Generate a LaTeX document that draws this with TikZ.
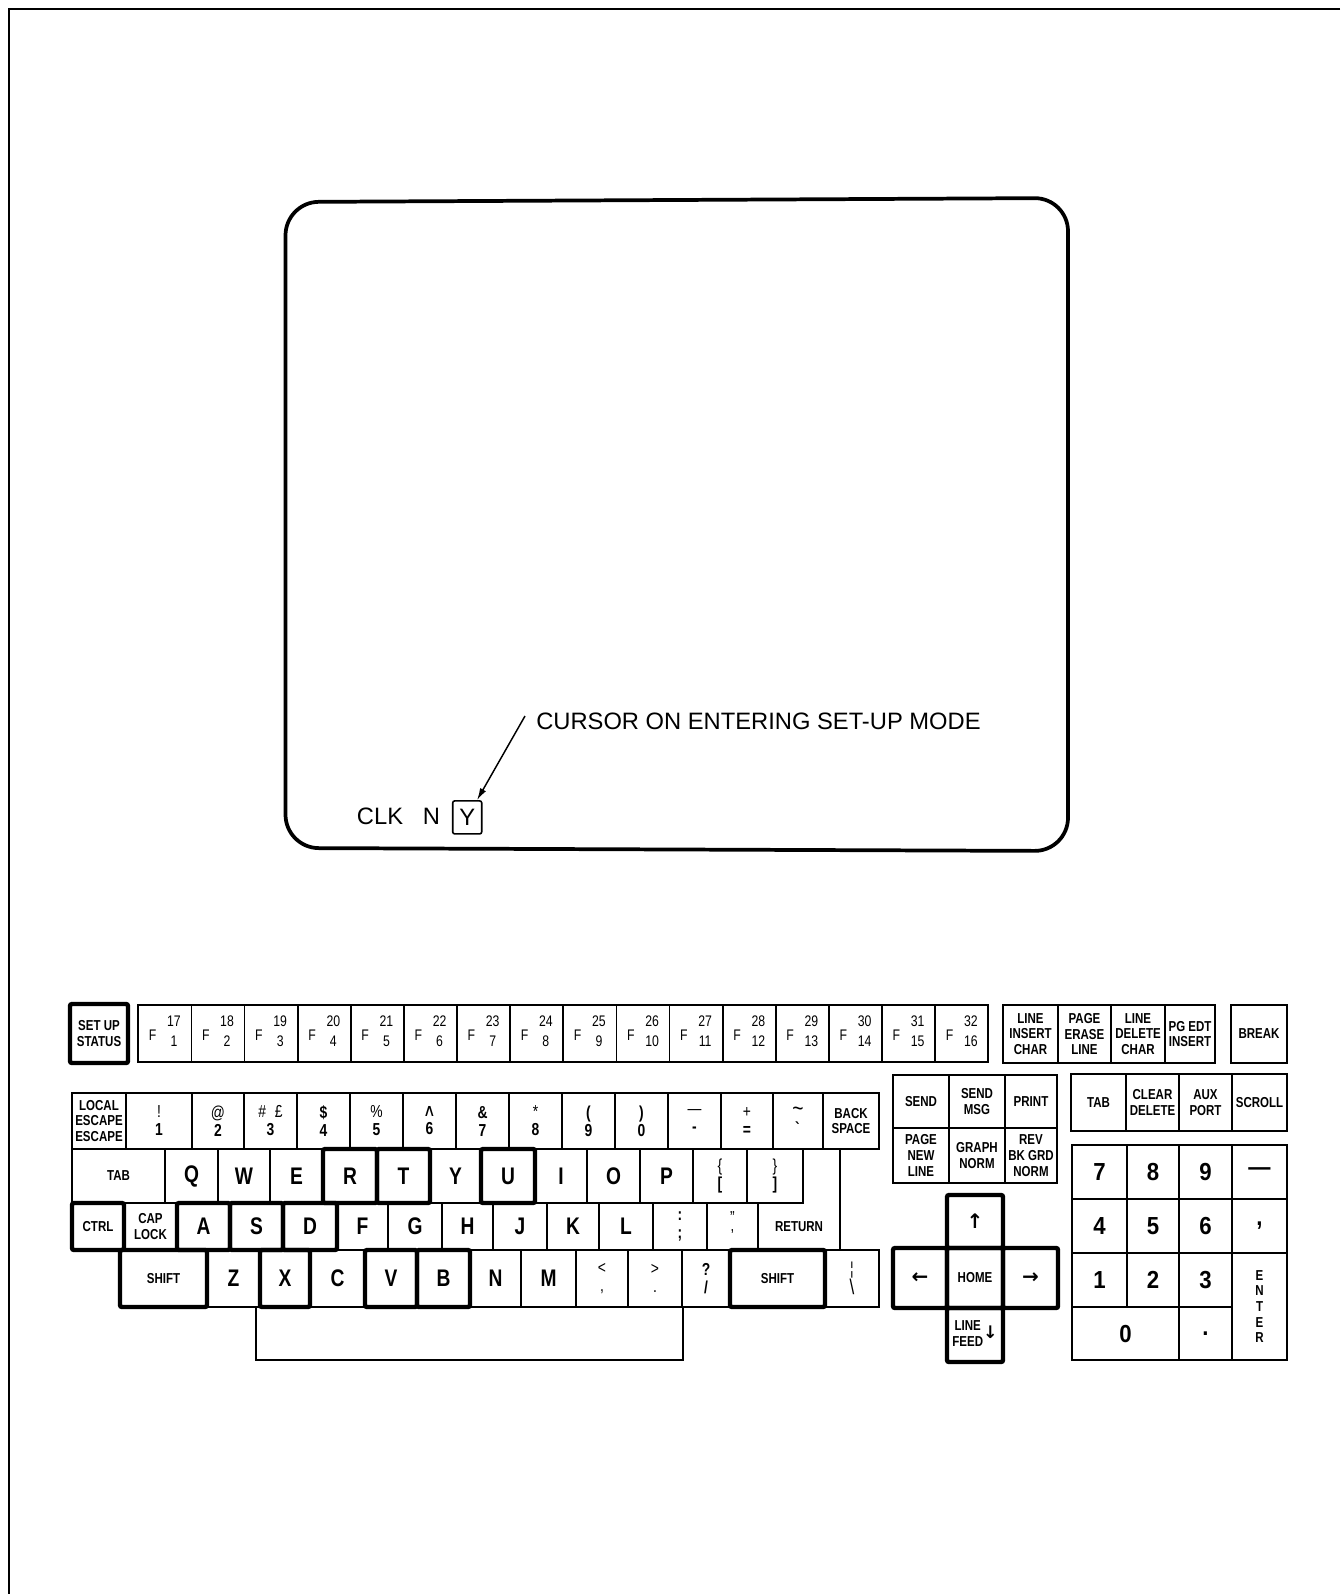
\documentclass[tikz,border=0pt]{standalone}
\usepackage{fontspec}
\setmainfont{Liberation Sans}
\newfontfamily\keyfont[FakeStretch=0.8]{Liberation Sans}
\newfontfamily\padfont[FakeStretch=0.9]{Liberation Sans}
\newfontfamily\symfont{DejaVu Sans}
\usetikzlibrary{arrows.meta}

\newcommand\kbkey[7][]{%
  \node[keybox,#1,minimum width={(#5-#3)*0.75pt},minimum height={(#6-#4)*0.75pt}]
    (#2) at ({(#3+#5)/2},{(#4+#6)/2}) {#7};}

\begin{document}
\begin{tikzpicture}[x=0.75pt, y=-0.75pt,
  keybox/.style={draw, line width=1.3pt, inner sep=0pt, outer sep=0pt, align=center, font=\keyfont\bfseries\fontsize{10.8}{11.8}\selectfont},
  hotkey/.style={line width=3.3pt, rounded corners=1.5pt},
  bigkey/.style={font=\keyfont\bfseries\fontsize{18}{18}\selectfont},
  padkey/.style={font=\padfont\bfseries\fontsize{18.5}{19}\selectfont},
  dualkey/.style={font=\keyfont\fontsize{13}{13.5}\selectfont},
  fnkey/.style={font=\keyfont\fontsize{11.5}{12}\selectfont},
  arrowkey/.style={font=\symfont\bfseries\fontsize{15}{16}\selectfont},
  keyline/.style={line width=1.3pt},
  monitor/.style={line width=2.8pt, rounded corners=25pt},
  crt/.style={font=\fontsize{17.8}{20}\selectfont, inner sep=0pt},
  pageedge/.style={line width=1.1pt},
  arr/.style={-{Latex[length=9pt,width=5pt]}, line width=1.1pt}
]
\useasboundingbox (0,0) rectangle (1340,1594);
\draw[pageedge] (1340,9) -- (9,9) -- (9,1594);

\draw[monitor] (676,200) -- (1068,198) -- (1068,851) -- (285.5,848) -- (285.5,202) -- cycle;
\node[crt, anchor=base west] (cursorlbl) at (536,729) {CURSOR ON ENTERING SET-UP MODE};
\node[crt, anchor=base] (clk) at (380,824) {CLK};
\node[crt, anchor=base] (clkn) at (431.5,824) {N};
\node[crt, draw, line width=1.2pt, rounded corners=1.5pt, minimum width=21.75pt, minimum height=24.75pt] (ybox) at (467.2,817.4) {Y};
\coordinate (ptr) at (525,716);
\draw[arr] (ptr) -- (ybox);

\kbkey[hotkey]{setup}{70}{1004}{128}{1063}{SET UP\\STATUS}
\foreach \i [evaluate=\i as \xl using 138.3+53.125*(\i-1), evaluate=\i as \hi using int(\i+16)] in {1,...,16}
  {\kbkey[fnkey]{fk\i}{\xl}{1005}{\xl+53.125}{1062}{F\hspace{8pt}\raisebox{2.5pt}{\begin{tabular}{@{}c@{}}\hi\\[3pt]\i\end{tabular}}}}
\foreach \xa/\xb/\txt [count=\n] in {1003/1058/{LINE\\INSERT\\CHAR}, 1058/1111/{PAGE\\ERASE\\LINE}, 1111/1165/{LINE\\DELETE\\CHAR}, 1165/1215/{PG EDT\\INSERT}}
  {\kbkey{ed\n}{\xa}{1005}{\xb}{1063}{\txt}}
\kbkey{kbreak}{1231}{1005}{1287}{1063}{BREAK}

\kbkey{kesc}{72}{1093}{126}{1149}{LOCAL\\ESCAPE\\ESCAPE}
\foreach \xa/\xb/\up/\dn [count=\n] in {126/192/!/1, 192/244/@/2, 244/297/{\#\enspace£}/3, 297/350/\textbf{\$}/4, 350/403/\%/5, 403/456/{{\symfont∧}}/6, 456/509/\textbf{\&}/7, 509/562/*/8, 562/615/\textbf{(}/9, 615/668/\textbf{)}/0, 668/721/—/{-}, 721/773/+/=, 773/823/{{\fontsize{18}{13.5}\selectfont\textasciitilde}}/\textasciigrave}
  {\kbkey[dualkey]{nk\n}{\xa}{1093}{\xb}{1149}{\up\\\textbf{\dn}}}
\kbkey{kback}{823}{1093}{879}{1149}{BACK\\SPACE}

\kbkey{ktab}{72}{1149}{165}{1203}{TAB}
\foreach \xa/\xb/\c in {165/218/Q, 218/270/W, 270/323/E, 430/481/Y, 535/587/I, 587/640/O, 640/693/P}
  {\kbkey[bigkey]{k\c}{\xa}{1149}{\xb}{1203}{\c}}
\foreach \xa/\xb/\c in {323/377/R, 377/430/T, 481/535/U}
  {\kbkey[bigkey,hotkey]{k\c}{\xa}{1149}{\xb}{1203}{\c}}
\kbkey[dualkey]{kbrl}{693}{1149}{747}{1203}{\{\\\textbf{[}}
\kbkey[dualkey]{kbrr}{747}{1149}{803}{1203}{\}\\\textbf{]}}

\kbkey[hotkey]{kctrl}{72}{1203}{124}{1250}{CTRL}
\kbkey{kcaps}{124}{1203}{177}{1250}{CAP\\LOCK}
\foreach \xa/\xb/\c in {337/388/F, 388/442/G, 442/493/H, 493/547/J, 547/599/K, 599/653/L}
  {\kbkey[bigkey]{k\c}{\xa}{1203}{\xb}{1250}{\c}}
\foreach \xa/\xb/\c in {177/230/A, 230/283/S, 283/337/D}
  {\kbkey[bigkey,hotkey]{k\c}{\xa}{1203}{\xb}{1250}{\c}}
\kbkey[dualkey]{kcolon}{653}{1203}{707}{1250}{\textbf{:}\\\textbf{;}}
\kbkey[dualkey]{kquote}{707}{1203}{758}{1250}{”\\’}
\node[keybox, draw=none] (kret) at (799,1226.5) {RETURN};
\draw[keyline] (803,1149) -- (840,1149) -- (840,1250) -- (758,1250) -- (758,1203) -- (803,1203) -- cycle;

\kbkey[hotkey]{kshl}{120}{1250}{207}{1307}{SHIFT}
\foreach \xa/\xb/\c in {207/260/Z, 310/365/C, 470/521/N, 521/576/M}
  {\kbkey[bigkey]{k\c}{\xa}{1250}{\xb}{1307}{\c}}
\foreach \xa/\xb/\c in {260/310/X, 365/417/V, 417/470/B}
  {\kbkey[bigkey,hotkey]{k\c}{\xa}{1250}{\xb}{1307}{\c}}
\kbkey[dualkey]{klt}{576}{1250}{628}{1307}{<\\,}
\kbkey[dualkey]{kgt}{628}{1250}{682}{1307}{>\\.}
\kbkey[dualkey]{kslash}{682}{1250}{730}{1307}{\textbf{?}\\\textbf{/}}
\kbkey[hotkey]{kshr}{730}{1250}{825}{1307}{SHIFT}
\kbkey[dualkey]{kbar}{825}{1250}{879}{1307}{¦\\{\fontsize{16}{13.5}\selectfont\textbackslash}}
\kbkey{kspace}{256}{1307}{683}{1360}{}

\foreach \xa/\xb/\txt [count=\n] in {893/949/SEND, 949/1005/{SEND\\MSG}, 1005/1057/PRINT}
  {\kbkey{sa\n}{\xa}{1075}{\xb}{1128}{\txt}}
\foreach \xa/\xb/\txt [count=\n] in {893/949/{PAGE\\NEW\\LINE}, 949/1005/{GRAPH\\NORM}, 1005/1057/{REV\\BK GRD\\NORM}}
  {\kbkey{sb\n}{\xa}{1128}{\xb}{1183}{\txt}}
\foreach \xa/\xb/\txt [count=\n] in {1071/1126/TAB, 1126/1179/{CLEAR\\DELETE}, 1179/1232/{AUX\\PORT}, 1232/1287/SCROLL}
  {\kbkey{ta\n}{\xa}{1074}{\xb}{1131}{\txt}}

\kbkey[hotkey,arrowkey]{kup}{947}{1195}{1003}{1248}{↑}
\kbkey[hotkey,arrowkey]{kleft}{893}{1248}{947}{1308}{←}
\kbkey[hotkey]{khome}{947}{1248}{1003}{1308}{HOME}
\kbkey[hotkey,arrowkey]{kright}{1003}{1248}{1058}{1308}{→}
\kbkey[hotkey]{klf}{947}{1308}{1003}{1362}{\begin{tabular}{@{}c@{}}LINE\\FEED\end{tabular}{\symfont\bfseries\fontsize{13}{13}\selectfont↓}}

\foreach \xa/\xb/\c [count=\n] in {1072/1127/7, 1127/1179/8, 1179/1232/9, 1232/1287/—}
  {\kbkey[padkey]{pa\n}{\xa}{1145}{\xb}{1199}{\c}}
\foreach \xa/\xb/\c [count=\n] in {1072/1127/4, 1127/1179/5, 1179/1232/6, 1232/1287/{,}}
  {\kbkey[padkey]{pb\n}{\xa}{1199}{\xb}{1253}{\c}}
\foreach \xa/\xb/\c [count=\n] in {1072/1127/1, 1127/1179/2, 1179/1232/3}
  {\kbkey[padkey]{pc\n}{\xa}{1253}{\xb}{1307}{\c}}
\kbkey[padkey]{pzero}{1072}{1307}{1179}{1360}{0}
\kbkey[padkey]{pdot}{1179}{1307}{1232}{1360}{.}
\kbkey{kenter}{1232}{1253}{1287}{1360}{E\\N\\T\\E\\R}
\end{tikzpicture}
\end{document}
